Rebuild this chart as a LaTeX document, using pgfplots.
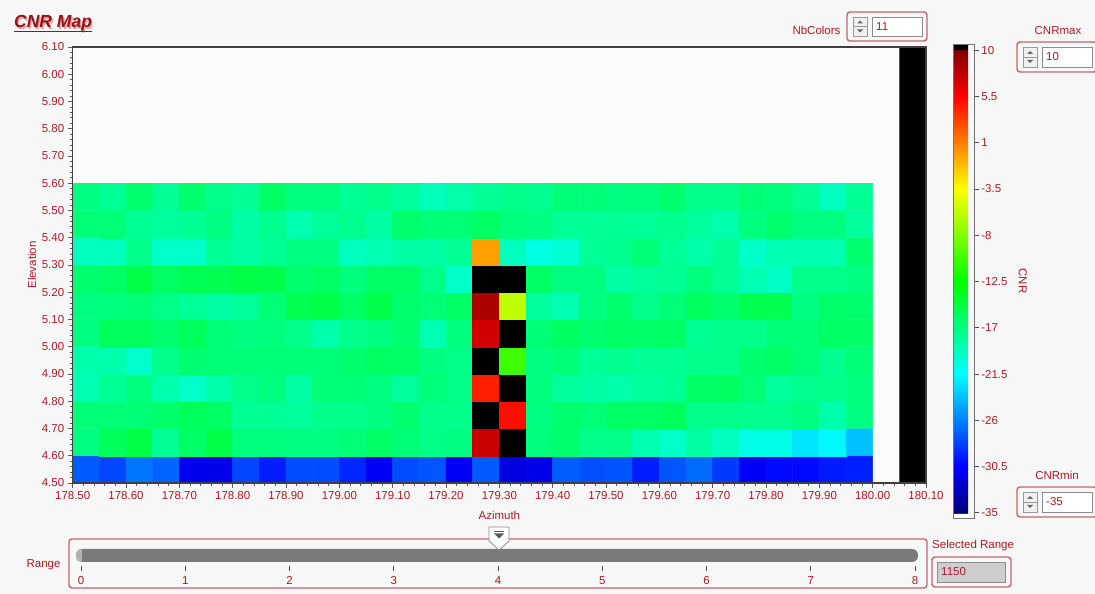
\documentclass[border=0pt]{standalone}
\usepackage{pgfplots}
\pgfplotsset{compat=1.18}
\usepackage{fontspec}
\setmainfont{Liberation Sans}

\definecolor{lvred}{RGB}{172,26,36}
\definecolor{titlered}{RGB}{150,18,22}
\definecolor{titleshadow}{RGB}{228,160,160}
\definecolor{panel}{RGB}{247,247,247}
\definecolor{plotbg}{RGB}{251,251,251}
\definecolor{boxframe}{RGB}{196,100,106}
\definecolor{track}{RGB}{122,122,122}
\definecolor{fieldgray}{RGB}{206,206,206}

\newcommand\lvfont{\fontsize{11.5}{13.5}\selectfont}

% numeric control: frame, increment/decrement buttons, text field
\newcommand\lvspin[5]{%
  \draw[boxframe, line width=1.4pt, rounded corners=3pt, fill=panel] (#1,#2) rectangle (#3,#4);
  \draw[black!40, fill=black!6, line width=0.6pt] (#1+6,#2+5) rectangle (#1+20,#4-5);
  \draw[black!40, line width=0.6pt] (#1+6,{(#2+#4)/2}) -- (#1+20,{(#2+#4)/2});
  \fill[black!60] (#1+10,{(#2+#4)/2-3}) -- (#1+16,{(#2+#4)/2-3}) -- (#1+13,{(#2+#4)/2-6}) -- cycle;
  \fill[black!60] (#1+10,{(#2+#4)/2+3}) -- (#1+16,{(#2+#4)/2+3}) -- (#1+13,{(#2+#4)/2+6}) -- cycle;
  \draw[black!45, fill=white, line width=0.8pt] (#1+25,#2+5) rectangle (#3-5,#4-5);
  \node[anchor=west, text=lvred, font=\lvfont, inner sep=0pt] at (#1+29,{(#2+#4)/2}) {#5};
}

\begin{document}
\begin{tikzpicture}
\useasboundingbox (0,0) rectangle (1095pt,594pt);
\fill[panel] (0,0) rectangle (1095pt,594pt);

\begin{axis}[
  at={(72.7pt,111pt)}, anchor=south west,
  scale only axis, width=853.3pt, height=436pt,
  xmin=178.5, xmax=180.1, ymin=4.5, ymax=6.1,
  xtick={178.5,178.6,178.7,178.8,178.9,179.0,179.1,179.2,179.3,179.4,179.5,179.6,179.7,179.8,179.9,180.0,180.1},
  ytick={4.5,4.6,4.7,4.8,4.9,5.0,5.1,5.2,5.3,5.4,5.5,5.6,5.7,5.8,5.9,6.0,6.1},
  minor tick num=4,
  tick align=outside, tick pos=left,
  major tick length=5pt, minor tick length=3pt,
  tick style={draw=black!65, line width=0.8pt},
  axis line style={draw=black!75, line width=1.3pt},
  axis background/.style={fill=plotbg},
  axis on top,
  /pgf/number format/assume math mode=true,
  ticklabel style={font=\lvfont, text=lvred},
  xticklabel style={/pgf/number format/.cd, fixed, fixed zerofill, precision=2},
  yticklabel style={/pgf/number format/.cd, fixed, fixed zerofill, precision=2},
  xlabel={Azimuth}, ylabel={Elevation},
  label style={font=\lvfont, text=lvred},
  xlabel style={at={(axis description cs:0.5,-0.0734)}, anchor=center},
  ylabel style={at={(axis description cs:-0.0477,0.5)}, anchor=center},
  point meta min=-35.5, point meta max=10.6,
  colormap={cnr}{
    rgb255(0pt)=(255,255,255); rgb255(4pt)=(255,255,255);
    rgb255(5pt)=(0,0,120); rgb255(50pt)=(0,0,255);
    rgb255(95pt)=(0,128,255); rgb255(140pt)=(0,255,255);
    rgb255(185pt)=(0,255,128); rgb255(230pt)=(0,255,0);
    rgb255(275pt)=(128,255,0); rgb255(320pt)=(255,255,0);
    rgb255(365pt)=(255,128,0); rgb255(410pt)=(255,0,0);
    rgb255(455pt)=(128,0,0); rgb255(456pt)=(0,0,0); rgb255(461pt)=(0,0,0)
  },
  colorbar,
  colorbar style={
    at={(parent axis.north east)}, anchor=north west,
    xshift=19.3pt, yshift=3pt,
    scale only axis, width=20.5pt, height=474pt,
    ytick={-35,-30.5,-26,-21.5,-17,-12.5,-8,-3.5,1,5.5,10},
    yticklabels={-35,-30.5,-26,-21.5,-17,-12.5,-8,-3.5,1,5.5,10},
    ytick pos=right, yticklabel pos=right,
    minor tick num=0,
    tick align=outside, major tick length=5pt,
    tick style={draw=black!70, line width=0.8pt},
    axis line style={draw=black!55, line width=0.8pt},
    yticklabel style={font=\lvfont, text=lvred, xshift=-1.5pt},
    ylabel={CNR},
    ylabel style={font=\lvfont, text=lvred, rotate=180,
      at={(axis description cs:3.37,0.5)}, anchor=center},
  },
]

% CNR per cell: azimuth centre, elevation centre, value
\addplot[matrix plot*, mesh/cols=30, point meta=explicit]
  table[row sep=\\, x=x, y=y, meta=c] {
x y c\\
178.525 4.55 -27.3\\ 178.575 4.55 -28.0\\ 178.625 4.55 -26.3\\ 178.675 4.55 -27.0\\ 178.725 4.55 -31.0\\ 178.775 4.55 -31.2\\
178.825 4.55 -28.0\\ 178.875 4.55 -29.5\\ 178.925 4.55 -27.8\\ 178.975 4.55 -27.8\\ 179.025 4.55 -29.2\\ 179.075 4.55 -30.8\\
179.125 4.55 -27.8\\ 179.175 4.55 -27.5\\ 179.225 4.55 -30.8\\ 179.275 4.55 -27.3\\ 179.325 4.55 -31.5\\ 179.375 4.55 -31.2\\
179.425 4.55 -27.2\\ 179.475 4.55 -27.7\\ 179.525 4.55 -27.5\\ 179.575 4.55 -29.5\\ 179.625 4.55 -27.5\\ 179.675 4.55 -26.7\\
179.725 4.55 -28.5\\ 179.775 4.55 -30.8\\ 179.825 4.55 -30.2\\ 179.875 4.55 -30.2\\ 179.925 4.55 -29.6\\ 179.975 4.55 -29.4\\
178.525 4.65 -17.0\\ 178.575 4.65 -15.7\\ 178.625 4.65 -15.0\\ 178.675 4.65 -17.7\\ 178.725 4.65 -16.0\\ 178.775 4.65 -15.0\\
178.825 4.65 -16.9\\ 178.875 4.65 -16.9\\ 178.925 4.65 -17.0\\ 178.975 4.65 -17.0\\ 179.025 4.65 -16.7\\ 179.075 4.65 -16.0\\
179.125 4.65 -16.7\\ 179.175 4.65 -17.2\\ 179.225 4.65 -17.0\\ 179.275 4.65 7.4\\ 179.325 4.65 15\\ 179.375 4.65 -16.9\\
179.425 4.65 -16.4\\ 179.475 4.65 -17.4\\ 179.525 4.65 -17.2\\ 179.575 4.65 -18.8\\ 179.625 4.65 -19.6\\ 179.675 4.65 -18.3\\
179.725 4.65 -19.2\\ 179.775 4.65 -20.6\\ 179.825 4.65 -20.6\\ 179.875 4.65 -22.4\\ 179.925 4.65 -21.7\\ 179.975 4.65 -23.7\\
178.525 4.75 -16.7\\ 178.575 4.75 -16.7\\ 178.625 4.75 -16.6\\ 178.675 4.75 -16.2\\ 178.725 4.75 -15.7\\ 178.775 4.75 -16.0\\
178.825 4.75 -17.7\\ 178.875 4.75 -17.7\\ 178.925 4.75 -18.0\\ 178.975 4.75 -17.4\\ 179.025 4.75 -17.4\\ 179.075 4.75 -17.0\\
179.125 4.75 -16.4\\ 179.175 4.75 -17.4\\ 179.225 4.75 -17.4\\ 179.275 4.75 15\\ 179.325 4.75 5.0\\ 179.375 4.75 -17.0\\
179.425 4.75 -16.4\\ 179.475 4.75 -16.7\\ 179.525 4.75 -16.0\\ 179.575 4.75 -16.0\\ 179.625 4.75 -15.7\\ 179.675 4.75 -17.4\\
179.725 4.75 -17.4\\ 179.775 4.75 -17.5\\ 179.825 4.75 -17.5\\ 179.875 4.75 -17.0\\ 179.925 4.75 -18.5\\ 179.975 4.75 -17.0\\
178.525 4.85 -18.8\\ 178.575 4.85 -17.7\\ 178.625 4.85 -16.9\\ 178.675 4.85 -18.5\\ 178.725 4.85 -19.6\\ 178.775 4.85 -18.5\\
178.825 4.85 -17.4\\ 178.875 4.85 -17.0\\ 178.925 4.85 -18.3\\ 178.975 4.85 -16.7\\ 179.025 4.85 -16.7\\ 179.075 4.85 -17.0\\
179.125 4.85 -18.0\\ 179.175 4.85 -16.7\\ 179.225 4.85 -17.2\\ 179.275 4.85 4.4\\ 179.325 4.85 15\\ 179.375 4.85 -16.9\\
179.425 4.85 -18.0\\ 179.475 4.85 -18.3\\ 179.525 4.85 -18.5\\ 179.575 4.85 -18.0\\ 179.625 4.85 -17.7\\ 179.675 4.85 -16.0\\
179.725 4.85 -15.9\\ 179.775 4.85 -16.7\\ 179.825 4.85 -18.0\\ 179.875 4.85 -17.5\\ 179.925 4.85 -17.4\\ 179.975 4.85 -16.9\\
178.525 4.95 -18.5\\ 178.575 4.95 -18.5\\ 178.625 4.95 -19.6\\ 178.675 4.95 -17.4\\ 178.725 4.95 -16.4\\ 178.775 4.95 -16.6\\
178.825 4.95 -16.7\\ 178.875 4.95 -16.7\\ 178.925 4.95 -16.6\\ 178.975 4.95 -16.7\\ 179.025 4.95 -16.4\\ 179.075 4.95 -15.9\\
179.125 4.95 -16.0\\ 179.175 4.95 -17.0\\ 179.225 4.95 -17.2\\ 179.275 4.95 15\\ 179.325 4.95 -10.4\\ 179.375 4.95 -17.0\\
179.425 4.95 -16.7\\ 179.475 4.95 -17.7\\ 179.525 4.95 -17.5\\ 179.575 4.95 -17.7\\ 179.625 4.95 -17.7\\ 179.675 4.95 -17.4\\
179.725 4.95 -17.4\\ 179.775 4.95 -16.4\\ 179.825 4.95 -16.0\\ 179.875 4.95 -16.7\\ 179.925 4.95 -17.5\\ 179.975 4.95 -16.7\\
178.525 5.05 -17.0\\ 178.575 5.05 -15.7\\ 178.625 5.05 -15.7\\ 178.675 5.05 -16.4\\ 178.725 5.05 -15.7\\ 178.775 5.05 -16.7\\
178.825 5.05 -17.0\\ 178.875 5.05 -16.9\\ 178.925 5.05 -17.4\\ 178.975 5.05 -18.5\\ 179.025 5.05 -17.4\\ 179.075 5.05 -17.0\\
179.125 5.05 -16.4\\ 179.175 5.05 -18.8\\ 179.225 5.05 -16.9\\ 179.275 5.05 7.1\\ 179.325 5.05 15\\ 179.375 5.05 -16.7\\
179.425 5.05 -15.9\\ 179.475 5.05 -16.4\\ 179.525 5.05 -16.0\\ 179.575 5.05 -16.2\\ 179.625 5.05 -16.0\\ 179.675 5.05 -17.7\\
179.725 5.05 -17.4\\ 179.775 5.05 -17.4\\ 179.825 5.05 -16.7\\ 179.875 5.05 -16.6\\ 179.925 5.05 -16.0\\ 179.975 5.05 -16.0\\
178.525 5.15 -17.0\\ 178.575 5.15 -16.9\\ 178.625 5.15 -16.7\\ 178.675 5.15 -17.2\\ 178.725 5.15 -17.7\\ 178.775 5.15 -18.3\\
178.825 5.15 -17.9\\ 178.875 5.15 -16.7\\ 178.925 5.15 -15.3\\ 178.975 5.15 -15.0\\ 179.025 5.15 -16.0\\ 179.075 5.15 -15.1\\
179.125 5.15 -16.4\\ 179.175 5.15 -16.7\\ 179.225 5.15 -16.0\\ 179.275 5.15 8.5\\ 179.325 5.15 -5.8\\ 179.375 5.15 -18.0\\
179.425 5.15 -18.8\\ 179.475 5.15 -17.0\\ 179.525 5.15 -16.4\\ 179.575 5.15 -17.4\\ 179.625 5.15 -16.7\\ 179.675 5.15 -15.7\\
179.725 5.15 -16.4\\ 179.775 5.15 -15.3\\ 179.825 5.15 -15.3\\ 179.875 5.15 -17.0\\ 179.925 5.15 -16.2\\ 179.975 5.15 -16.4\\
178.525 5.25 -16.4\\ 178.575 5.25 -16.0\\ 178.625 5.25 -15.0\\ 178.675 5.25 -16.0\\ 178.725 5.25 -15.5\\ 178.775 5.25 -15.3\\
178.825 5.25 -15.0\\ 178.875 5.25 -15.1\\ 178.925 5.25 -16.4\\ 178.975 5.25 -16.0\\ 179.025 5.25 -16.9\\ 179.075 5.25 -16.0\\
179.125 5.25 -16.0\\ 179.175 5.25 -17.4\\ 179.225 5.25 -19.6\\ 179.275 5.25 15\\ 179.325 5.25 15\\ 179.375 5.25 -16.0\\
179.425 5.25 -17.0\\ 179.475 5.25 -17.0\\ 179.525 5.25 -18.3\\ 179.575 5.25 -17.9\\ 179.625 5.25 -17.7\\ 179.675 5.25 -16.9\\
179.725 5.25 -17.7\\ 179.775 5.25 -18.8\\ 179.825 5.25 -19.4\\ 179.875 5.25 -17.4\\ 179.925 5.25 -17.4\\ 179.975 5.25 -17.0\\
178.525 5.35 -19.2\\ 178.575 5.35 -19.2\\ 178.625 5.35 -17.4\\ 178.675 5.35 -19.6\\ 178.725 5.35 -19.6\\ 178.775 5.35 -17.7\\
178.825 5.35 -18.3\\ 178.875 5.35 -17.7\\ 178.925 5.35 -17.0\\ 178.975 5.35 -17.0\\ 179.025 5.35 -19.2\\ 179.075 5.35 -18.8\\
179.125 5.35 -18.3\\ 179.175 5.35 -18.3\\ 179.225 5.35 -17.7\\ 179.275 5.35 -0.1\\ 179.325 5.35 -19.2\\ 179.375 5.35 -20.5\\
179.425 5.35 -20.0\\ 179.475 5.35 -17.7\\ 179.525 5.35 -17.5\\ 179.575 5.35 -16.7\\ 179.625 5.35 -17.7\\ 179.675 5.35 -18.5\\
179.725 5.35 -17.7\\ 179.775 5.35 -19.6\\ 179.825 5.35 -18.8\\ 179.875 5.35 -18.7\\ 179.925 5.35 -18.7\\ 179.975 5.35 -16.4\\
178.525 5.45 -16.7\\ 178.575 5.45 -16.7\\ 178.625 5.45 -17.7\\ 178.675 5.45 -18.0\\ 178.725 5.45 -17.7\\ 178.775 5.45 -17.0\\
178.825 5.45 -18.3\\ 178.875 5.45 -17.5\\ 178.925 5.45 -18.7\\ 178.975 5.45 -17.9\\ 179.025 5.45 -17.5\\ 179.075 5.45 -18.3\\
179.125 5.45 -16.4\\ 179.175 5.45 -16.7\\ 179.225 5.45 -16.6\\ 179.275 5.45 -16.0\\ 179.325 5.45 -16.9\\ 179.375 5.45 -17.0\\
179.425 5.45 -17.7\\ 179.475 5.45 -17.7\\ 179.525 5.45 -17.7\\ 179.575 5.45 -17.7\\ 179.625 5.45 -17.5\\ 179.675 5.45 -18.0\\
179.725 5.45 -18.5\\ 179.775 5.45 -17.0\\ 179.825 5.45 -16.4\\ 179.875 5.45 -17.0\\ 179.925 5.45 -17.0\\ 179.975 5.45 -18.0\\
178.525 5.55 -17.0\\ 178.575 5.55 -17.7\\ 178.625 5.55 -16.4\\ 178.675 5.55 -17.7\\ 178.725 5.55 -16.4\\ 178.775 5.55 -17.4\\
178.825 5.55 -17.7\\ 178.875 5.55 -16.0\\ 178.925 5.55 -16.9\\ 178.975 5.55 -16.9\\ 179.025 5.55 -17.7\\ 179.075 5.55 -17.3\\
179.125 5.55 -18.0\\ 179.175 5.55 -19.0\\ 179.225 5.55 -18.4\\ 179.275 5.55 -17.7\\ 179.325 5.55 -17.4\\ 179.375 5.55 -17.6\\
179.425 5.55 -16.7\\ 179.475 5.55 -16.7\\ 179.525 5.55 -17.0\\ 179.575 5.55 -16.9\\ 179.625 5.55 -16.4\\ 179.675 5.55 -17.4\\
179.725 5.55 -17.4\\ 179.775 5.55 -16.7\\ 179.825 5.55 -16.9\\ 179.875 5.55 -17.7\\ 179.925 5.55 -19.2\\ 179.975 5.55 -17.7\\
};

% overflow column at the right edge of the scan
\addplot[fill=black, draw=none] coordinates {(180.05,4.5) (180.1,4.5) (180.1,6.1) (180.05,6.1) (180.05,4.5)};
\end{axis}

\begin{scope}[x=1pt, y=-1pt, yshift=594pt]
  % title
  \node[anchor=base west, inner sep=0pt, text=titleshadow, font=\fontsize{17.5}{20}\bfseries\itshape\selectfont] at (15.3,29.3) {CNR Map};
  \node[anchor=base west, inner sep=0pt, text=titlered, font=\fontsize{17.5}{20}\bfseries\itshape\selectfont] at (14,28) {CNR Map};
  \draw[titlered, line width=1.2pt] (14,31.5) -- (92,31.5);

  % numeric controls
  \node[anchor=east, text=lvred, font=\lvfont] at (844,30) {NbColors};
  \lvspin{847}{12}{927}{41}{11}
  \node[text=lvred, font=\lvfont] at (1058,31) {CNRmax};
  \lvspin{1017}{42}{1097}{72}{10}
  \node[text=lvred, font=\lvfont] at (1057,475) {CNRmin};
  \lvspin{1017}{487}{1097}{517}{-35}

  % range slider
  \node[anchor=east, text=lvred, font=\lvfont] at (64,565) {Range};
  \draw[boxframe, line width=1.4pt, rounded corners=3pt, fill=panel] (69,539) rectangle (927,588);
  \fill[track, rounded corners=6pt] (76,549) rectangle (918,562);
  \fill[black!30, rounded corners=5pt] (76,549) rectangle (86,562);
  \fill[track] (82,549) rectangle (88,562);
  \foreach \i in {0,...,8} {
    \draw[black!70, line width=0.8pt] ({81+104.25*\i},566) -- ({81+104.25*\i},571);
    \node[anchor=base, inner sep=0pt, text=lvred, font=\lvfont] at ({81+104.25*\i},584.5) {\i};
  }
  \filldraw[fill=white, draw=black!45, line width=0.8pt]
    (489,527) -- (509,527) -- (509,541) -- (499,550) -- (489,541) -- cycle;
  \fill[black!65] (494,531) rectangle (504,532.5);
  \fill[black!65] (494,533.5) -- (504,533.5) -- (499,538.5) -- cycle;

  % selected range indicator
  \node[anchor=west, text=lvred, font=\lvfont, inner sep=0pt] at (932,546) {Selected Range};
  \draw[boxframe, line width=1.4pt, rounded corners=3pt, fill=panel] (932,557) rectangle (1011,587);
  \draw[black!45, fill=fieldgray, line width=0.8pt] (937,562) rectangle (1005,582);
  \node[anchor=west, text=lvred, font=\lvfont, inner sep=0pt] at (941,572) {1150};
\end{scope}
\end{tikzpicture}
\end{document}
